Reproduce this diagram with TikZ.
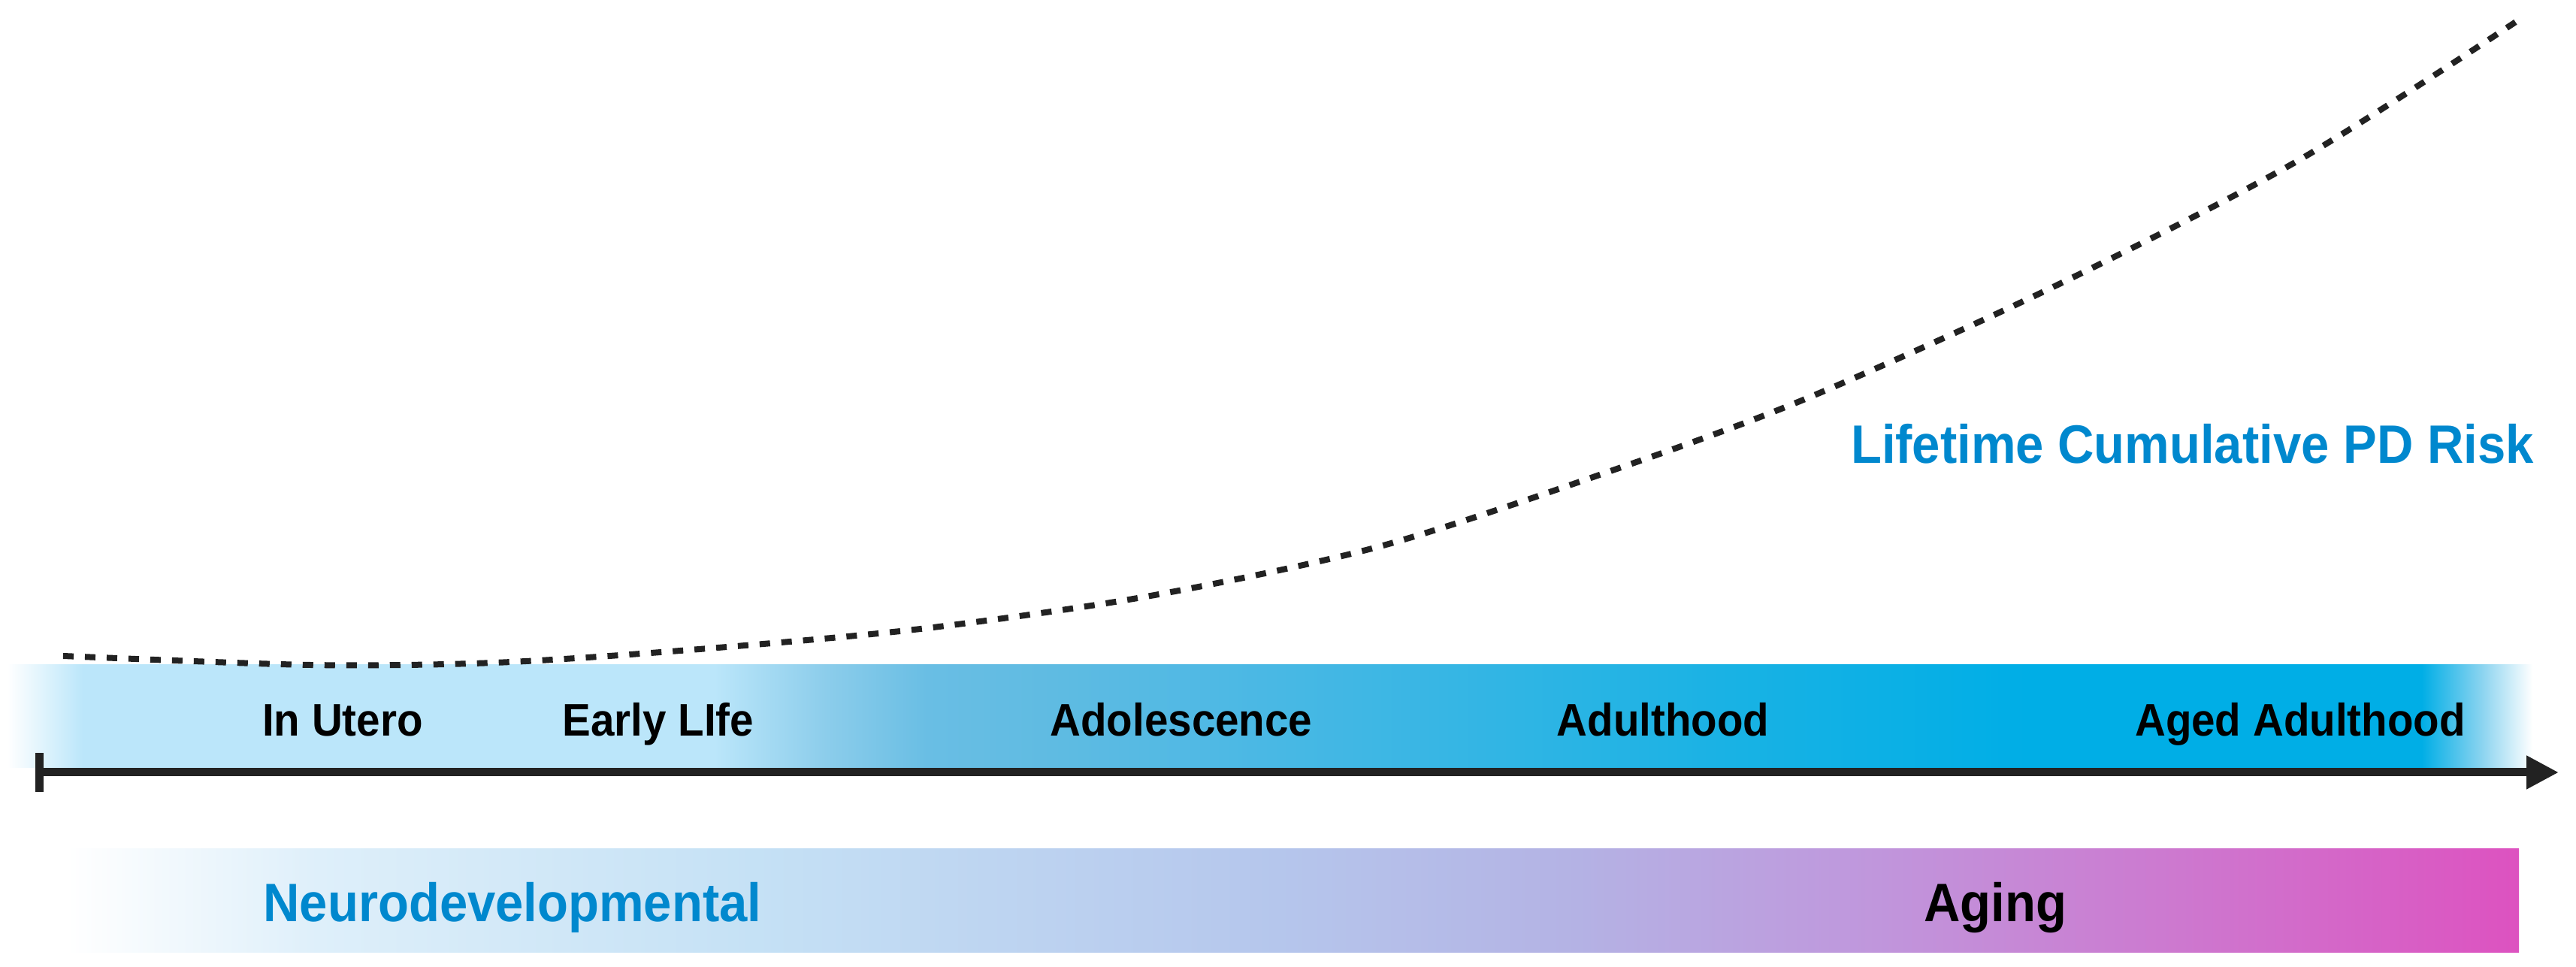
\documentclass[tikz,border=0pt]{standalone}
\usepackage{fontspec}
\newfontfamily\labelfont{Liberation Sans}[FakeStretch=0.93]
\usetikzlibrary{arrows.meta}

\definecolor{riskblue}{HTML}{0088CE}
\definecolor{bandlight}{HTML}{BBE6FA}
\definecolor{bandsoft}{RGB}{140,205,235}
\definecolor{bandmida}{RGB}{105,190,228}
\definecolor{bandmid}{RGB}{95,187,226}
\definecolor{bandmidb}{RGB}{80,185,228}
\definecolor{bandcyanl}{RGB}{25,178,228}
\definecolor{bandcyan}{RGB}{0,174,230}
\definecolor{bandfade}{RGB}{140,212,240}
\definecolor{agea}{RGB}{222,239,250}
\definecolor{ageb}{RGB}{197,225,245}
\definecolor{agec}{RGB}{181,198,236}
\definecolor{aged}{RGB}{180,178,228}
\definecolor{agee}{RGB}{192,150,220}
\definecolor{agef}{RGB}{205,120,207}
\definecolor{ageg}{RGB}{221,82,192}
\definecolor{axisgray}{HTML}{222222}

\pgfdeclarehorizontalshading{lifeband}{100bp}{color(0bp)=(white); color(25bp)=(white);
  color(26.5bp)=(bandlight); color(39bp)=(bandlight); color(41.2bp)=(bandsoft);
  color(43.2bp)=(bandmida); color(45.7bp)=(bandmid); color(48.7bp)=(bandmidb);
  color(59.1bp)=(bandcyanl); color(65bp)=(bandcyan); color(72.8bp)=(bandcyan);
  color(74bp)=(bandfade); color(75bp)=(white); color(100bp)=(white)}
\pgfdeclarehorizontalshading{agingband}{100bp}{color(0bp)=(white); color(25bp)=(white);
  color(30.1bp)=(agea); color(39bp)=(ageb); color(49.7bp)=(agec); color(55.8bp)=(aged);
  color(61.9bp)=(agee); color(68.1bp)=(agef); color(75bp)=(ageg); color(100bp)=(ageg)}

\tikzset{
  phase/.style={font=\labelfont\bfseries\fontsize{17.3}{20}\selectfont, anchor=base},
  stage/.style={font=\labelfont\bfseries\fontsize{20.5}{24}\selectfont, anchor=base},
  timeline/.style={line width=0.11cm, color=axisgray,
    {Bar[width=5.2mm]}-{Triangle[length=4.3mm,width=4.2mm]}},
  riskcurve/.style={line width=0.08cm, color=axisgray, dash pattern=on 0.14cm off 0.15cm}
}

\begin{document}
\begin{tikzpicture}
    \useasboundingbox (0,0) rectangle (34.28,12.87);
    % colour bands
    \shade[shading=lifeband] (0.10,2.65) rectangle (33.70,4.02);
    \shade[shading=agingband] (0.90,0.19) rectangle (33.52,1.57);

    \node[phase] (utero) at (4.56,3.07) {In Utero};
    \node[phase] (early) at (8.76,3.07) {Early LIfe};
    \node[phase] (adol) at (15.72,3.07) {Adolescence};
    \node[phase] (adult) at (22.13,3.07) {Adulthood};
    \node[phase] (aged) at (30.61,3.07) {Aged Adulthood};
    \node[stage, text=riskblue] (neuro) at (6.82,0.60) {Neurodevelopmental};
    \node[stage] (aging) at (26.55,0.60) {Aging};
    \node[stage, text=riskblue, anchor=base east] (risk) at (33.84,6.70) {Lifetime Cumulative PD Risk};

    \coordinate (start) at (0.47,2.59);
    \coordinate (end) at (34.05,2.59);
    \draw[timeline] (start) -- (end);

    \draw[riskcurve] plot[smooth] coordinates {(0.84,4.14) (4.13,4.02) (6.58,4.05) (9.18,4.22)
      (12.25,4.50) (15.31,4.94) (18.37,5.60) (21.43,6.60) (24.00,7.55) (27.28,9.03)
      (30.56,10.72) (33.48,12.58)};
\end{tikzpicture}
\end{document}
